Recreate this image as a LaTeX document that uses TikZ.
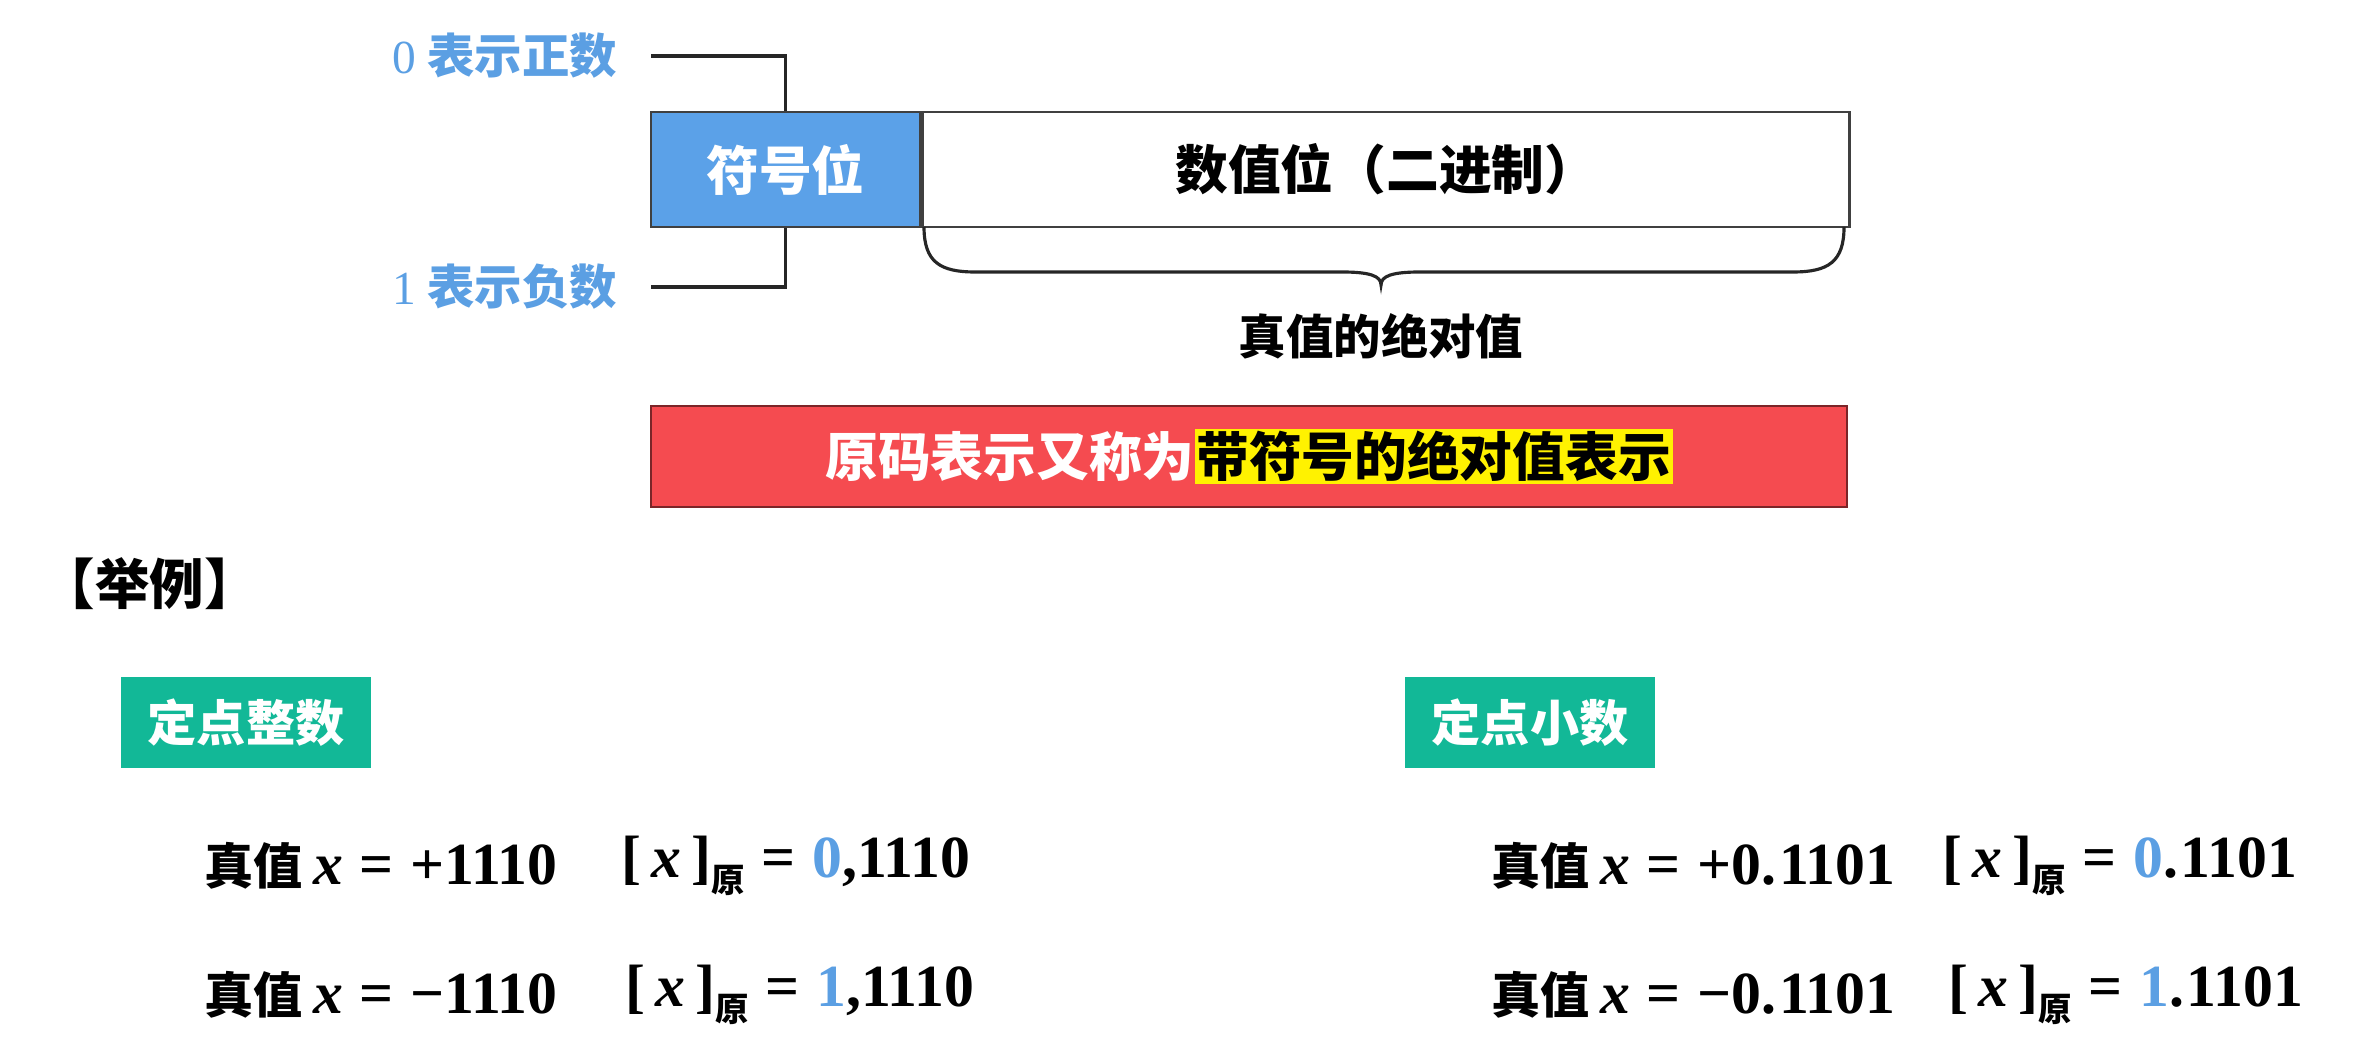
\documentclass[tikz,border=0pt]{standalone}
\usepackage{fontspec}
\setmainfont{Liberation Serif}
\newfontfamily\cjk{Noto Sans CJK SC}
\usepackage{tikz}
\usetikzlibrary{positioning}

\definecolor{signblue}{HTML}{5BA1E8}
\definecolor{labelblue}{HTML}{5B9FE3}
\definecolor{bannerred}{HTML}{F54B50}
\definecolor{tagreen}{HTML}{12B897}

\newcommand{\zh}[1]{\fontsize{#1}{#1}\selectfont\cjk\bfseries}
\newcommand{\eqfont}{\fontsize{17}{17}\selectfont\rmfamily\bfseries}
\newcommand{\eqsp}{\hspace{0.28em}}
\newcommand{\truevalue}[1]{{\zh{14}真值}\,{\itshape x}\eqsp=\eqsp#1}
\newcommand{\origcode}[2]{[\,{\itshape x}\,]\raisebox{-0.55ex}{\zh{9.5}原}\eqsp=\eqsp{\color{labelblue}#1}#2}

\begin{document}
\begin{tikzpicture}[
    link/.style={draw=black!85, line width=0.9pt},
    signbox/.style={draw=black!75, line width=0.8pt, fill=signblue, text=white,
                    minimum width=2.69cm, minimum height=1.15cm, inner sep=0, font=\zh{15}},
    valbox/.style={draw=black!75, line width=0.8pt, fill=white,
                   minimum width=9.27cm, minimum height=1.15cm, inner sep=0, font=\zh{15}},
    bitlabel/.style={text=labelblue, anchor=east, inner sep=0, font=\zh{13.5}},
    banner/.style={draw=black!50!bannerred, line width=0.8pt, fill=bannerred, text=white,
                   minimum width=11.96cm, minimum height=1.01cm, inner sep=0, font=\zh{15}},
    tag/.style={fill=tagreen, text=white, minimum width=2.5cm, minimum height=0.91cm,
                inner sep=0, font=\zh{14}},
    formula/.style={anchor=west, inner sep=0, font=\eqfont}
  ]
    \useasboundingbox (0,0) rectangle (23.74,10.48);

    % word layout
    \node[signbox] (sign) at (7.855,8.785) {符号位};
    \node[valbox, right=0pt of sign] (value) {数值位（二进制）};
    \node[bitlabel] (zero) at (6.18,9.92) {{\rmfamily\mdseries 0}\ 表示正数};
    \node[bitlabel] (one) at (6.18,7.61) {{\rmfamily\mdseries 1}\ 表示负数};
    \draw[link] ([xshift=0.33cm]zero.east) -| (sign.north);
    \draw[link] ([xshift=0.33cm]one.east) -| (sign.south);

    % brace under the value bits
    \draw[link] (9.24,8.21) .. controls (9.24,7.86) and (9.40,7.76) .. (9.75,7.76)
      -- (13.42,7.76) .. controls (13.70,7.76) and (13.81,7.72) .. (13.81,7.63)
      .. controls (13.81,7.72) and (13.92,7.76) .. (14.20,7.76)
      -- (17.93,7.76) .. controls (18.28,7.76) and (18.44,7.86) .. (18.44,8.21);
    \node[inner sep=0, font=\zh{13.5}] (absval) at (13.81,7.12) {真值的绝对值};

    \node[banner] (banner) at (12.49,5.915)
      {原码表示又称为\setlength{\fboxsep}{0.5pt}\colorbox{yellow}{\color{black}带符号的绝对值表示}};

    % examples
    \node[anchor=west, inner sep=0, font=\zh{15.5}] (example) at (0.40,4.64) {【举例】};
    \node[tag] (inttag) at (2.46,3.255) {定点整数};
    \node[tag] (fractag) at (15.30,3.255) {定点小数};

    \node[formula] (intposA) at (2.04,1.82) {\truevalue{+1110}};
    \node[formula] (intposB) at (6.21,1.82) {\origcode{0}{,1110}};
    \node[formula] (intnegA) at (2.04,0.53) {\truevalue{−1110}};
    \node[formula] (intnegB) at (6.25,0.53) {\origcode{1}{,1110}};
    \node[formula] (fracposA) at (14.91,1.82) {\truevalue{+0.\hspace{0.05em}1101}};
    \node[formula] (fracposB) at (19.42,1.82) {\origcode{0}{.\hspace{0.05em}1101}};
    \node[formula] (fracnegA) at (14.91,0.53) {\truevalue{−0.\hspace{0.05em}1101}};
    \node[formula] (fracnegB) at (19.48,0.53) {\origcode{1}{.\hspace{0.05em}1101}};
  \end{tikzpicture}
\end{document}
